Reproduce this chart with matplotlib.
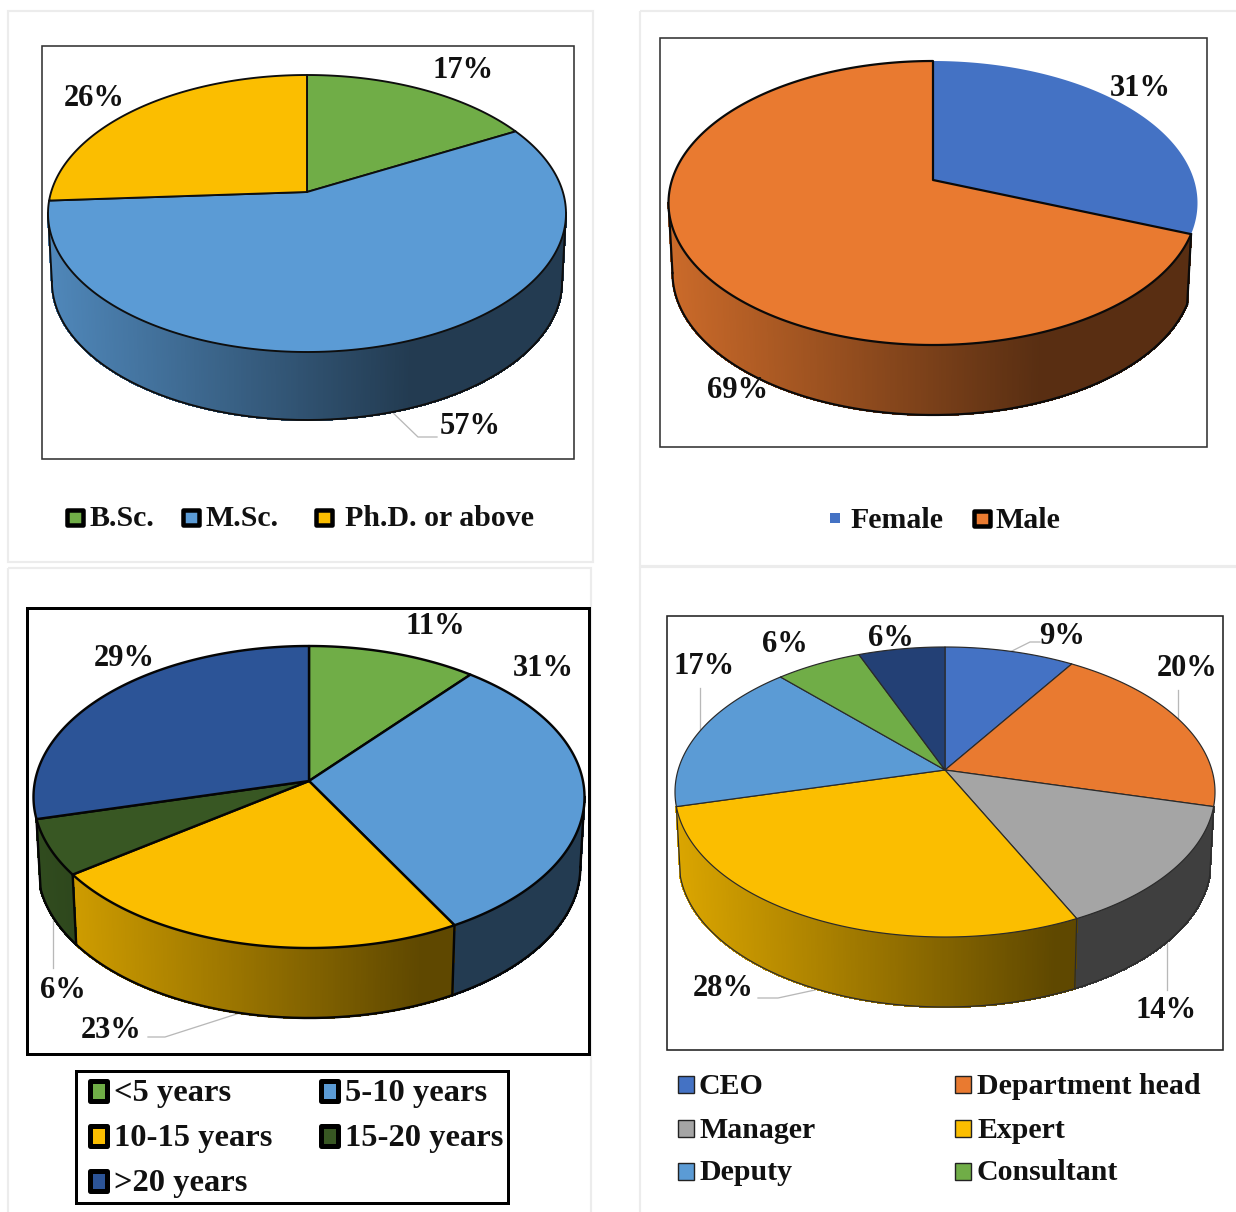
import numpy as np
import matplotlib
matplotlib.use("Agg")
import matplotlib.pyplot as plt
from matplotlib.collections import PolyCollection
from matplotlib.colors import to_rgb
from matplotlib.patches import Rectangle

plt.rcParams['font.family'] = ['Liberation Serif', 'DejaVu Serif']

GREEN, SKY, AMBER = '#70AD47', '#5B9BD5', '#FBBE00'
ROYAL, ORANGE, GREY = '#4472C4', '#E97A30', '#A5A5A5'
FOREST, COBALT, NAVY = '#385723', '#2C5497', '#234075'

education_labels = ['B.Sc.', 'M.Sc.', 'Ph.D. or above']
education_values = [17, 57, 26]
education_colors = [GREEN, SKY, AMBER]

gender_labels = ['Female', 'Male']
gender_values = [31, 69]
gender_colors = [ROYAL, ORANGE]

experience_labels = ['<5 years', '5-10 years', '10-15 years', '15-20 years', '>20 years']
experience_values = [11, 31, 23, 6, 29]
experience_colors = [GREEN, SKY, AMBER, FOREST, COBALT]

position_labels = ['CEO', 'Department head', 'Manager', 'Expert', 'Deputy', 'Consultant', 'Other']
position_values = [9, 20, 14, 28, 17, 6, 6]
position_colors = [ROYAL, ORANGE, GREY, AMBER, SKY, GREEN, NAVY]

W, H = 1236, 1212
fig = plt.figure(figsize=(W / 100, H / 100), dpi=100, facecolor='white')
ax = fig.add_axes([0, 0, 1, 1])
ax.set_xlim(0, W)
ax.set_ylim(H, 0)
ax.axis('off')


def px(n):
    """Line width in points for a width given in pixels."""
    return n * 0.72


def box(x0, y0, x1, y1, color, lw, z=1):
    ax.add_patch(Rectangle((x0, y0), x1 - x0, y1 - y0, fill=False,
                           edgecolor=color, linewidth=px(lw), zorder=z))


def pie3d(values, colors, apex, left, right, top, bottom, depth,
          edge, lw, unlined=()):
    """Perspective pie: slices run clockwise from twelve o'clock on a tilted disc."""
    cx, cy = apex
    up, down = cy - top, bottom - cy
    k = (down - up) / (down + up)
    b = up * (1 + k)
    a = (right - left) / 2 * np.sqrt(1 - k ** 2)

    def rim(theta):
        X, Y = np.sin(theta), np.cos(theta)
        d = 1 + k * Y
        return cx + a * X / d, cy - b * Y / d

    def base(x, y):
        return cx + (x - cx) * 0.985, y + depth

    fractions = np.asarray(values, float) / np.sum(values)
    bounds = 2 * np.pi * np.concatenate([[0], np.cumsum(fractions)])
    front_start = np.arccos(-k)
    front_end = 2 * np.pi - front_start
    # Slices that only just wrap past the silhouette get no side wall
    margin = np.radians(16)
    near_start = bounds[(bounds > front_start) & (bounds < front_start + margin)]
    near_end = bounds[(bounds < front_end) & (bounds > front_end - margin)]
    if near_start.size:
        front_start = near_start[0]
    if near_end.size:
        front_end = near_end[-1]

    # Side wall, shaded from left to right
    quads, shades = [], []
    for i, color in enumerate(colors):
        lo, hi = max(bounds[i], front_start), min(bounds[i + 1], front_end)
        if hi <= lo:
            continue
        steps = np.linspace(lo, hi, max(2, int((hi - lo) * 120)))
        rgb = np.array(to_rgb(color))
        for t0, t1 in zip(steps[:-1], steps[1:]):
            x0, y0 = rim(t0)
            x1, y1 = rim(t1)
            u = min(1.0, ((x0 + x1) / 2 - left) / (right - left) / 0.70)
            quads.append([(x0, y0), (x1, y1), base(x1, y1), base(x0, y0)])
            shades.append(tuple(rgb * (0.87 - 0.49 * u)))
    ax.add_collection(PolyCollection(quads, facecolors=shades, edgecolors=shades,
                                     linewidths=1.0, antialiaseds=False, zorder=3))

    # Outline of the side wall
    sweep = np.linspace(front_start, front_end, 300)
    rx, ry = rim(sweep)
    bx, by = base(rx, ry)
    ax.plot(bx, by, color=edge, lw=px(lw), zorder=4)
    for t in (front_start, front_end):
        x, y = rim(t)
        ax.plot([x, base(x, y)[0]], [y, base(x, y)[1]], color=edge, lw=px(lw), zorder=4)
    for t in bounds[1:-1]:
        if front_start < t < front_end:
            x, y = rim(t)
            ax.plot([x, base(x, y)[0]], [y, base(x, y)[1]], color=edge, lw=px(lw), zorder=4)

    # Top face
    for i, color in enumerate(colors):
        steps = np.linspace(bounds[i], bounds[i + 1], 200)
        x, y = rim(steps)
        ax.fill(np.r_[cx, x], np.r_[cy, y], facecolor=color,
                edgecolor='none' if i in unlined else edge,
                linewidth=px(lw), joinstyle='round',
                zorder=5 + (0 if i in unlined else 1))


def percent(value, x, y):
    ax.text(x, y + 2, f'{value}%', fontsize=22, fontweight='bold', color='#111111',
            ha='center', va='center', zorder=9)


def leader(xs, ys):
    ax.plot(xs, ys, color='#b8b8b8', lw=px(1.3), zorder=2.5)


def legend_entry(label, color, key_x, text_x, y, style, size=21.5):
    if style == 'heavy':
        w, h, t = (16, 15, 4.5) if size < 23 else (17, 20, 5)
        ax.add_patch(Rectangle((key_x, y - h / 2), w, h, facecolor=color, edgecolor='black',
                               linewidth=px(t), joinstyle='round', zorder=6))
    elif style == 'thin':
        ax.add_patch(Rectangle((key_x, y - 8.5), 16, 17, facecolor=color, edgecolor='#222222',
                               linewidth=px(1.4), zorder=6))
    else:
        ax.add_patch(Rectangle((key_x, y - 5), 10, 10, facecolor=color, edgecolor='none', zorder=6))
    ax.text(text_x, y - 1, label, fontsize=size, fontweight='bold', color='#111111',
            ha='left', va='center_baseline', zorder=9)


# Card outlines
for card in [(8, 11, 593, 562), (640, 11, 1245, 566), (8, 568, 591, 1220), (640, 567, 1245, 1220)]:
    box(*card, '#ececec', 2.2, z=0.5)

# Education level
box(42, 46, 574, 459, '#333333', 1.6)
pie3d(education_values, education_colors, (307, 192), 48, 566, 75, 352, 68, '#0e0e0e', 1.9)
for v, (x, y) in zip(education_values, [(463, 68), (470, 425), (94, 97)]):
    percent(v, x, y)
leader([388, 418, 437], [408, 437, 437])
for lab, col, kx, tx in zip(education_labels, education_colors, (67, 183, 316), (89, 205, 345)):
    legend_entry(lab, col, kx, tx, 517, 'heavy')

# Gender
box(660, 38, 1207, 447, '#333333', 1.6)
pie3d(gender_values, gender_colors, (933, 180), 668, 1197, 61, 345, 70, '#0a0a0a', 2.2, unlined=(0,))
for v, (x, y) in zip(gender_values, [(1140, 86), (738, 388)]):
    percent(v, x, y)
legend_entry(gender_labels[0], gender_colors[0], 830, 850, 518, 'plain')
legend_entry(gender_labels[1], gender_colors[1], 974, 996, 518, 'heavy')

# Years of experience
box(27, 608, 589, 1054, 'black', 3)
pie3d(experience_values, experience_colors, (309, 781), 33, 584, 646, 948, 70, '#050505', 2.4)
for v, (x, y) in zip(experience_values, [(435, 625), (543, 666), (111, 1028), (63, 989), (124, 657)]):
    percent(v, x, y)
leader([243, 165, 148], [1012, 1037, 1037])
leader([53, 53], [914, 968])
box(76, 1071, 508, 1203, 'black', 3)
experience_slots = [(90, 114, 1091), (321, 345, 1091), (90, 114, 1136), (321, 345, 1136), (90, 114, 1181)]
for lab, col, (kx, tx, y) in zip(experience_labels, experience_colors, experience_slots):
    legend_entry(lab, col, kx, tx, y, 'heavy', size=23.4)

# Organisational position
box(667, 616, 1223, 1050, '#222222', 1.6)
pie3d(position_values, position_colors, (945, 770), 675, 1215, 647, 937, 70, '#2a2a2a', 1.2)
for v, (x, y) in zip(position_values, [(1062, 635), (1187, 667), (1166, 1009), (723, 987),
                                       (704, 665), (785, 642), (891, 636)]):
    percent(v, x, y)
leader([1010, 1030, 1040], [652, 642, 642])
leader([1178, 1178], [690, 720])
leader([1167, 1167], [935, 990])
leader([815, 778, 758], [990, 998, 998])
leader([700, 700], [688, 745])
position_slots = [(678, 699, 1084), (955, 977, 1084), (678, 699, 1128),
                  (955, 977, 1128), (678, 699, 1171), (955, 977, 1171)]
for lab, col, (kx, tx, y) in zip(position_labels, position_colors, position_slots):
    legend_entry(lab, col, kx, tx, y, 'thin')

fig.savefig('out.png', dpi=100, facecolor='white')
